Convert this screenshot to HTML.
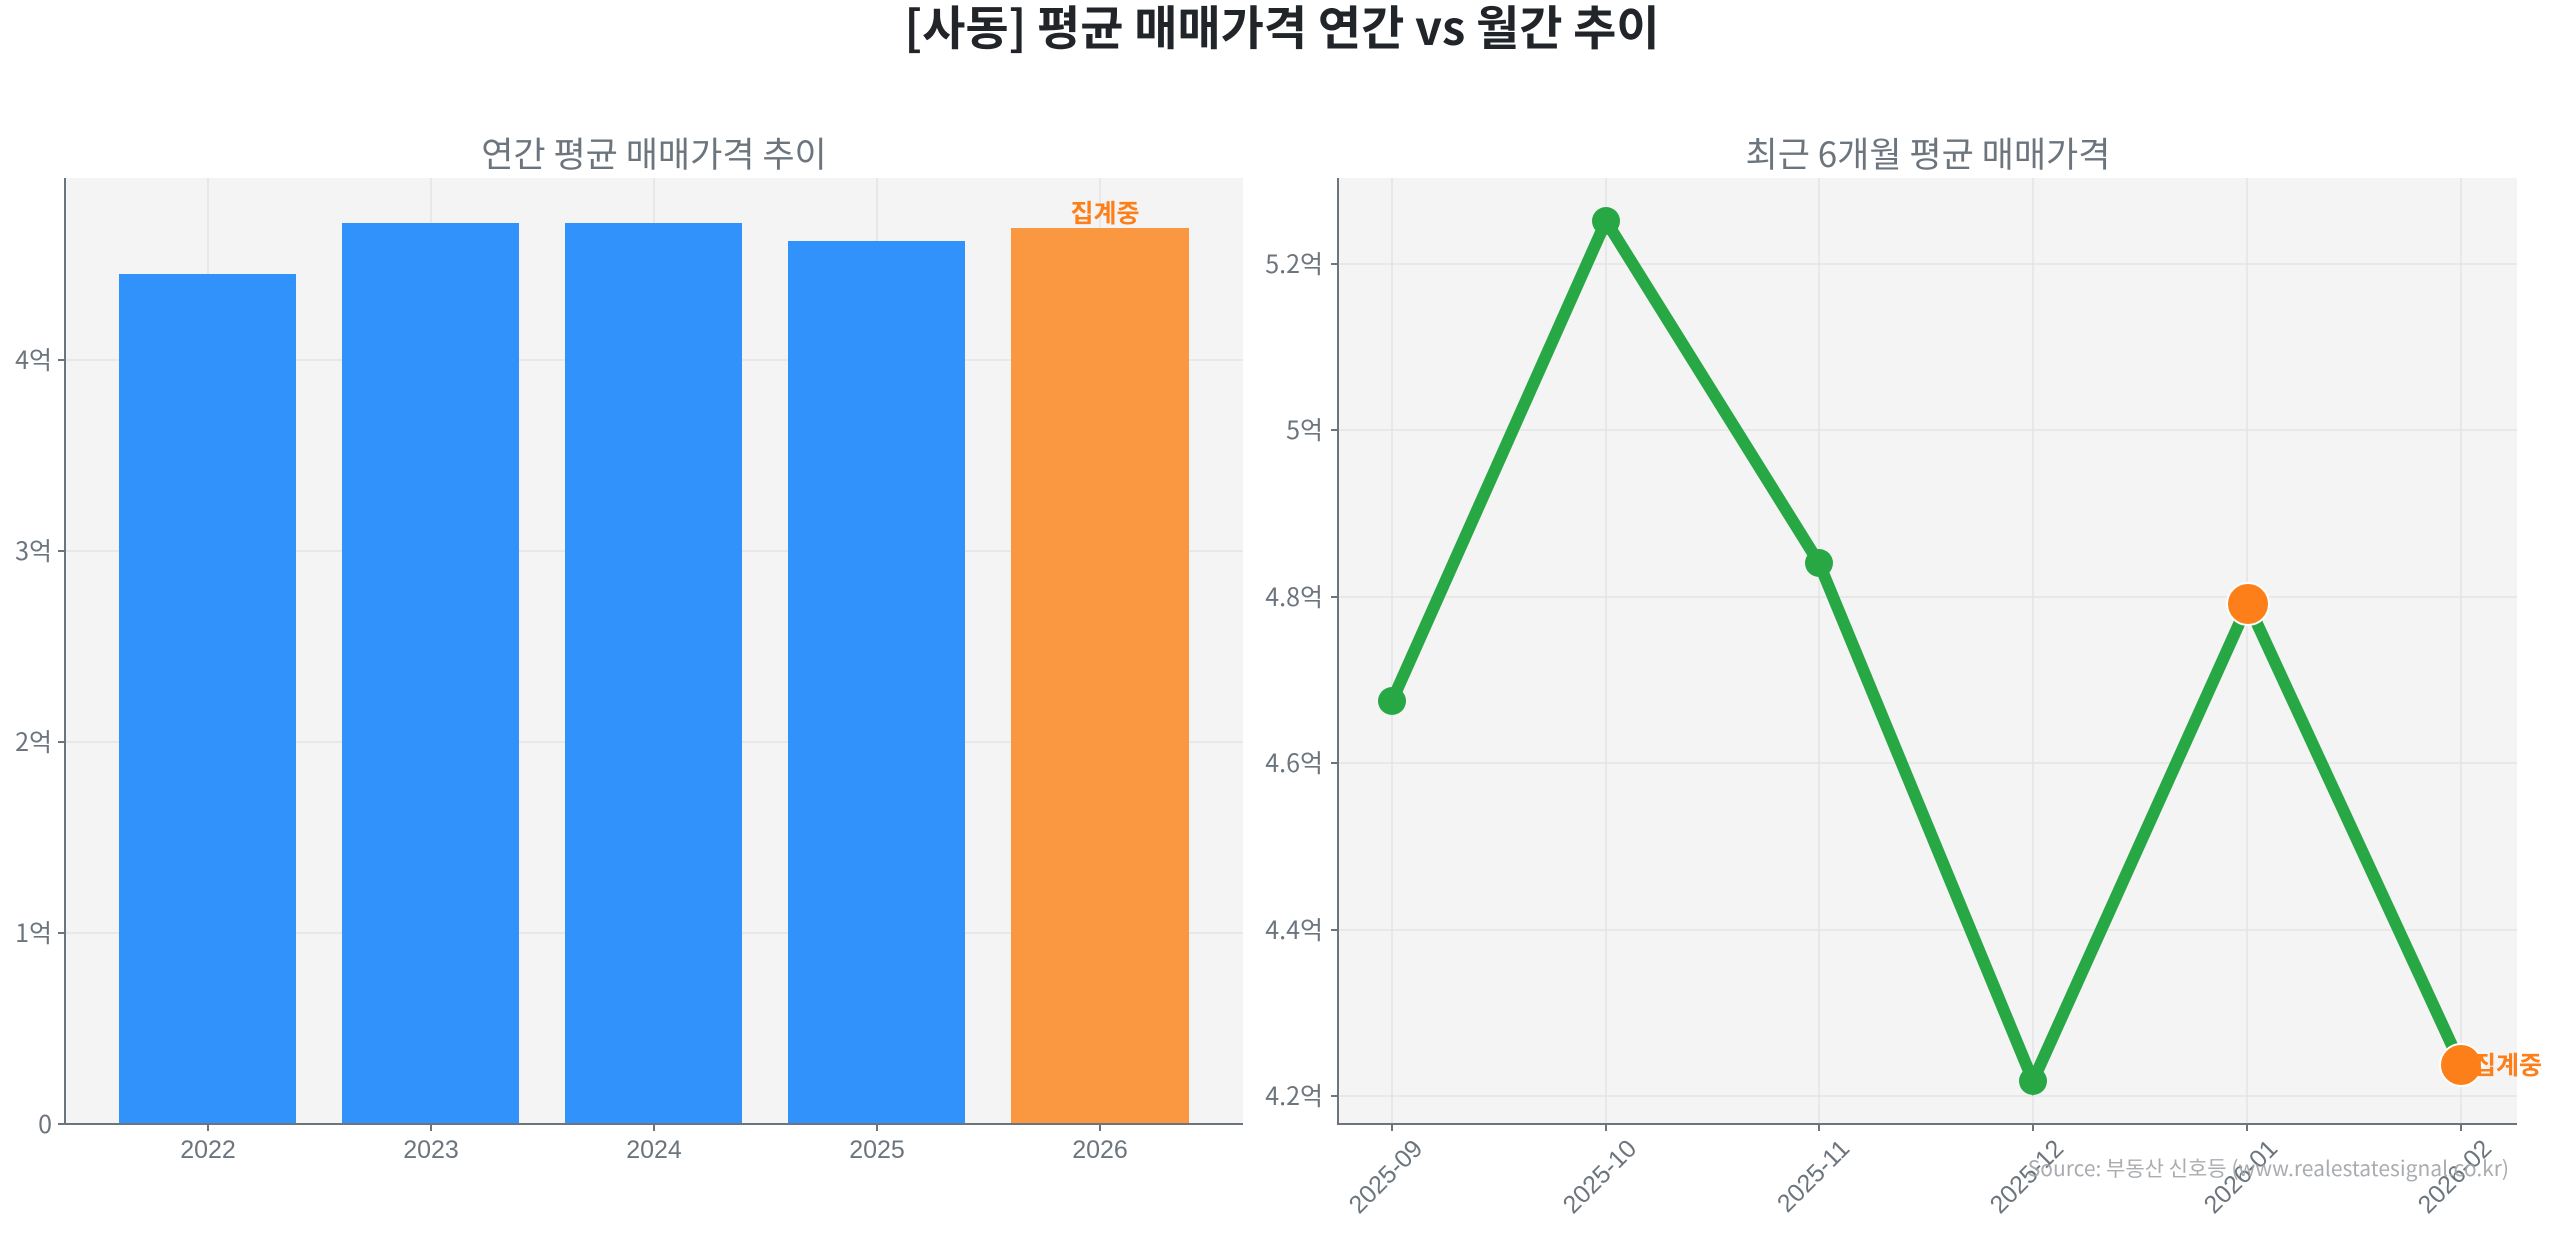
<!DOCTYPE html>
<html><head><meta charset="utf-8"><style>
html,body{margin:0;padding:0;background:#fff;}
svg{display:block;font-family:"Liberation Sans","Noto Sans CJK KR",sans-serif;}
</style></head><body>
<svg width="2560" height="1235" viewBox="0 0 2560 1235" xmlns="http://www.w3.org/2000/svg">
<text x="1282" y="45" text-anchor="middle" font-size="47" font-weight="bold" fill="#212529" font-family="Noto Sans CJK KR, sans-serif">[사동] 평균 매매가격 연간 vs 월간 추이</text>

<!-- Left chart -->
<text x="654" y="167" text-anchor="middle" font-size="35" fill="#6c757d" font-family="Noto Sans CJK KR, sans-serif">연간 평균 매매가격 추이</text>
<rect x="65" y="178" width="1178" height="946" fill="#f4f4f4"/>
<g stroke="#e4e4e4" stroke-width="1.5">
<line x1="65" x2="1243" y1="933" y2="933"/><line x1="65" x2="1243" y1="742" y2="742"/>
<line x1="65" x2="1243" y1="551" y2="551"/><line x1="65" x2="1243" y1="360" y2="360"/>
<line x1="208" x2="208" y1="178" y2="1124"/><line x1="431" x2="431" y1="178" y2="1124"/>
<line x1="654" x2="654" y1="178" y2="1124"/><line x1="877" x2="877" y1="178" y2="1124"/>
<line x1="1100" x2="1100" y1="178" y2="1124"/>
</g>
<rect x="119" y="274" width="177" height="850" fill="#3192fb"/>
<rect x="342" y="223" width="177" height="901" fill="#3192fb"/>
<rect x="565" y="223" width="177" height="901" fill="#3192fb"/>
<rect x="788" y="241" width="177" height="883" fill="#3192fb"/>
<rect x="1011" y="228" width="178" height="896" fill="#f99841"/>
<text x="1105" y="222" text-anchor="middle" font-size="25" font-weight="bold" fill="#fd7f1a" font-family="Noto Sans CJK KR, sans-serif">집계중</text>
<g stroke="#6c757d" stroke-width="2">
<line x1="65" x2="65" y1="178" y2="1125"/><line x1="64" x2="1243" y1="1124" y2="1124"/>
<line x1="58" x2="65" y1="1124" y2="1124"/><line x1="58" x2="65" y1="933" y2="933"/>
<line x1="58" x2="65" y1="742" y2="742"/><line x1="58" x2="65" y1="551" y2="551"/><line x1="58" x2="65" y1="360" y2="360"/>
<line x1="208" x2="208" y1="1124" y2="1131"/><line x1="431" x2="431" y1="1124" y2="1131"/>
<line x1="654" x2="654" y1="1124" y2="1131"/><line x1="877" x2="877" y1="1124" y2="1131"/><line x1="1100" x2="1100" y1="1124" y2="1131"/>
</g>
<g font-size="25" fill="#6c757d" text-anchor="end" font-family="Noto Sans CJK KR, sans-serif">
<text x="52" y="1133">0</text><text x="52" y="942">1억</text><text x="52" y="751">2억</text><text x="52" y="560">3억</text><text x="52" y="369">4억</text>
</g>
<g font-size="25" fill="#6c757d" text-anchor="middle">
<text x="208" y="1158">2022</text><text x="431" y="1158">2023</text><text x="654" y="1158">2024</text><text x="877" y="1158">2025</text><text x="1100" y="1158">2026</text>
</g>

<!-- Right chart -->
<text x="1928" y="167" text-anchor="middle" font-size="35" fill="#6c757d" font-family="Noto Sans CJK KR, sans-serif">최근 6개월 평균 매매가격</text>
<rect x="1338" y="178" width="1179" height="946" fill="#f4f4f4"/>
<g stroke="#e4e4e4" stroke-width="1.5">
<line x1="1338" x2="2517" y1="264" y2="264"/><line x1="1338" x2="2517" y1="430" y2="430"/>
<line x1="1338" x2="2517" y1="597" y2="597"/><line x1="1338" x2="2517" y1="763" y2="763"/>
<line x1="1338" x2="2517" y1="930" y2="930"/><line x1="1338" x2="2517" y1="1096" y2="1096"/>
<line x1="1392" x2="1392" y1="178" y2="1124"/><line x1="1606" x2="1606" y1="178" y2="1124"/>
<line x1="1819" x2="1819" y1="178" y2="1124"/><line x1="2033" x2="2033" y1="178" y2="1124"/>
<line x1="2247" x2="2247" y1="178" y2="1124"/><line x1="2461" x2="2461" y1="178" y2="1124"/>
</g>
<polyline points="1392,701 1606,221 1819,563 2033,1081 2248,604 2461,1065" fill="none" stroke="#28a745" stroke-width="12" stroke-linejoin="miter"/>
<circle cx="1392" cy="701" r="14" fill="#28a745"/>
<circle cx="1606" cy="221" r="14" fill="#28a745"/>
<circle cx="1819" cy="563" r="14" fill="#28a745"/>
<circle cx="2033" cy="1081" r="14" fill="#28a745"/>
<circle cx="2248" cy="604" r="21" fill="#fd7f1a" stroke="#fff" stroke-width="2"/>
<circle cx="2461" cy="1065" r="21" fill="#fd7f1a" stroke="#fff" stroke-width="2"/>
<text x="2473" y="1074" font-size="25" font-weight="bold" fill="#fd7f1a" font-family="Noto Sans CJK KR, sans-serif">집계중</text>
<g stroke="#6c757d" stroke-width="2">
<line x1="1338" x2="1338" y1="178" y2="1125"/><line x1="1337" x2="2517" y1="1124" y2="1124"/>
<line x1="1331" x2="1338" y1="264" y2="264"/><line x1="1331" x2="1338" y1="430" y2="430"/>
<line x1="1331" x2="1338" y1="597" y2="597"/><line x1="1331" x2="1338" y1="763" y2="763"/>
<line x1="1331" x2="1338" y1="930" y2="930"/><line x1="1331" x2="1338" y1="1096" y2="1096"/>
<line x1="1392" x2="1392" y1="1124" y2="1131"/><line x1="1606" x2="1606" y1="1124" y2="1131"/>
<line x1="1819" x2="1819" y1="1124" y2="1131"/><line x1="2033" x2="2033" y1="1124" y2="1131"/>
<line x1="2247" x2="2247" y1="1124" y2="1131"/><line x1="2461" x2="2461" y1="1124" y2="1131"/>
</g>
<g font-size="25" fill="#6c757d" text-anchor="end" font-family="Noto Sans CJK KR, sans-serif">
<text x="1323" y="273">5.2억</text><text x="1323" y="439">5억</text><text x="1323" y="606">4.8억</text>
<text x="1323" y="772">4.6억</text><text x="1323" y="939">4.4억</text><text x="1323" y="1105">4.2억</text>
</g>
<g font-size="25" fill="#6c757d" text-anchor="end">
<text transform="translate(1424,1150) rotate(-45)">2025-09</text>
<text transform="translate(1638,1150) rotate(-45)">2025-10</text>
<text transform="translate(1851,1150) rotate(-45)">2025-11</text>
<text transform="translate(2065,1150) rotate(-45)">2025-12</text>
<text transform="translate(2279,1150) rotate(-45)">2026-01</text>
<text transform="translate(2493,1150) rotate(-45)">2026-02</text>
</g>
<text x="2509" y="1176" text-anchor="end" font-size="21" fill="#a0a4a8" opacity="0.9" font-family="Noto Sans CJK KR, sans-serif">Source: 부동산 신호등 (www.realestatesignal.co.kr)</text>
</svg>
</body></html>
